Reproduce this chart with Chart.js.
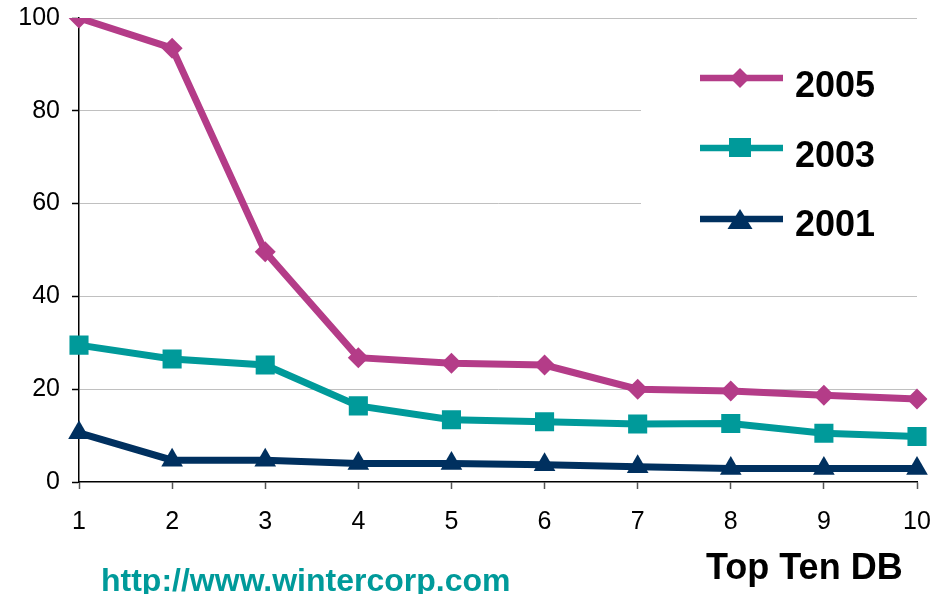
<!DOCTYPE html>
<html>
<head>
<meta charset="utf-8">
<script src="https://cdn.jsdelivr.net/npm/chart.js@4/dist/chart.umd.min.js"></script>
<style>
  html, body { margin: 0; padding: 0; background: #ffffff; }
  #wrap { position: relative; width: 948px; height: 594px; }
</style>
</head>
<body>
<div id="wrap"><canvas id="c"></canvas></div>
<script>
// Database size ranking, top ten per survey year
const ranks = ['1', '2', '3', '4', '5', '6', '7', '8', '9', '10'];
const sizes2005 = [100, 93.5, 49.6, 26.8, 25.6, 25.2, 20.0, 19.6, 18.7, 17.9];
const sizes2003 = [29.5, 26.5, 25.2, 16.4, 13.4, 13.0, 12.5, 12.6, 10.5, 9.8];
const sizes2001 = [10.6, 4.7, 4.7, 4.0, 4.0, 3.7, 3.3, 2.9, 2.9, 2.9];
const yTicks = [0, 20, 40, 60, 80, 100];
const seriesNames = ['2005', '2003', '2001'];
const axisTitle = 'Top Ten DB';
const sourceUrl = 'http://www.wintercorp.com';

const MAGENTA = '#b43c88';
const TEAL = '#009a9a';
const NAVY = '#00305f';
const FONT = '"Liberation Sans", Arial, Helvetica, sans-serif';

function drawMarker(ctx, style, x, y, color) {
  ctx.save();
  ctx.fillStyle = color;
  ctx.beginPath();
  if (style === 'diamond') {
    ctx.moveTo(x - 10, y); ctx.lineTo(x, y - 10); ctx.lineTo(x + 10, y); ctx.lineTo(x, y + 10);
  } else if (style === 'square') {
    ctx.rect(x - 11, y - 10, 22, 19);
  } else {
    ctx.moveTo(x, y - 10); ctx.lineTo(x + 12.5, y + 10); ctx.lineTo(x - 12.5, y + 10);
  }
  ctx.closePath();
  ctx.fill();
  ctx.restore();
}

// Legend box over the upper-right grid area, plus the axis caption and source line
const decorations = {
  id: 'decorations',
  beforeDatasetsDraw(chart) {
    const ctx = chart.ctx;
    ctx.save();
    ctx.fillStyle = '#ffffff';
    ctx.fillRect(641, 40, 307, 222);
    ctx.restore();
  },
  afterDraw(chart) {
    const ctx = chart.ctx;
    const rows = [
      { name: seriesNames[0], color: MAGENTA, marker: 'diamond', y: 78, base: 97 },
      { name: seriesNames[1], color: TEAL, marker: 'square', y: 148, base: 167 },
      { name: seriesNames[2], color: NAVY, marker: 'triangle', y: 219, base: 236 }
    ];
    ctx.save();
    rows.forEach(r => {
      ctx.strokeStyle = r.color;
      ctx.lineWidth = 6.5;
      ctx.beginPath();
      ctx.moveTo(700, r.y);
      ctx.lineTo(783, r.y);
      ctx.stroke();
      drawMarker(ctx, r.marker, 740, r.y, r.color);
      ctx.fillStyle = '#000000';
      ctx.font = 'bold 36px ' + FONT;
      ctx.textBaseline = 'alphabetic';
      ctx.textAlign = 'left';
      ctx.fillText(r.name, 795, r.base);
    });
    ctx.fillStyle = '#000000';
    ctx.font = 'bold 36px ' + FONT;
    ctx.fillText(axisTitle, 706, 579);
    ctx.fillStyle = TEAL;
    ctx.font = 'bold 32px ' + FONT;
    ctx.fillText(sourceUrl, 101, 591);
    ctx.restore();
  }
};

new Chart(document.getElementById('c'), {
  type: 'line',
  data: {
    labels: ranks,
    datasets: [
      { label: seriesNames[0], data: sizes2005, borderColor: MAGENTA, backgroundColor: MAGENTA,
        borderWidth: 7, pointStyle: 'rectRot', pointRadius: 10.5, pointBorderWidth: 0, tension: 0 },
      { label: seriesNames[1], data: sizes2003, borderColor: TEAL, backgroundColor: TEAL,
        borderWidth: 7, pointStyle: 'rect', pointRadius: 13.5, pointBorderWidth: 0, tension: 0 },
      { label: seriesNames[2], data: sizes2001, borderColor: NAVY, backgroundColor: NAVY,
        borderWidth: 7, pointStyle: 'triangle', pointRadius: 12.5, pointBorderWidth: 0, tension: 0 }
    ]
  },
  options: {
    responsive: true,
    maintainAspectRatio: false,
    animation: false,
    events: [],
    layout: { padding: { top: 18, right: 31, left: 0, bottom: 0 } },
    plugins: { legend: { display: false }, tooltip: { enabled: false } },
    scales: {
      x: {
        offset: false,
        afterFit(s) { s.height = 112; s.paddingLeft = 0; s.paddingRight = 0; },
        grid: { drawOnChartArea: false, drawTicks: true, tickLength: 7, tickColor: '#555555', tickWidth: 1.5 },
        border: { display: true, color: '#000000', width: 1.5 },
        ticks: { color: '#000000', font: { family: FONT, size: 25 }, padding: 18, maxRotation: 0, autoSkip: false }
      },
      y: {
        min: 0, max: 100,
        afterFit(s) { s.width = 79; s.paddingTop = 0; s.paddingBottom = 0; },
        afterBuildTicks(s) { s.ticks = yTicks.map(v => ({ value: v })); },
        grid: {
          color: ctx => (ctx.tick && ctx.tick.value === 0) ? 'rgba(0,0,0,0)' : '#c0c0c0',
          lineWidth: 1,
          tickLength: 7,
          tickColor: '#000000',
          tickWidth: 1.5
        },
        border: { display: true, color: '#000000', width: 1.5 },
        ticks: { color: '#000000', font: { family: FONT, size: 25 }, padding: 12 }
      }
    }
  },
  plugins: [decorations]
});
</script>
</body>
</html>
